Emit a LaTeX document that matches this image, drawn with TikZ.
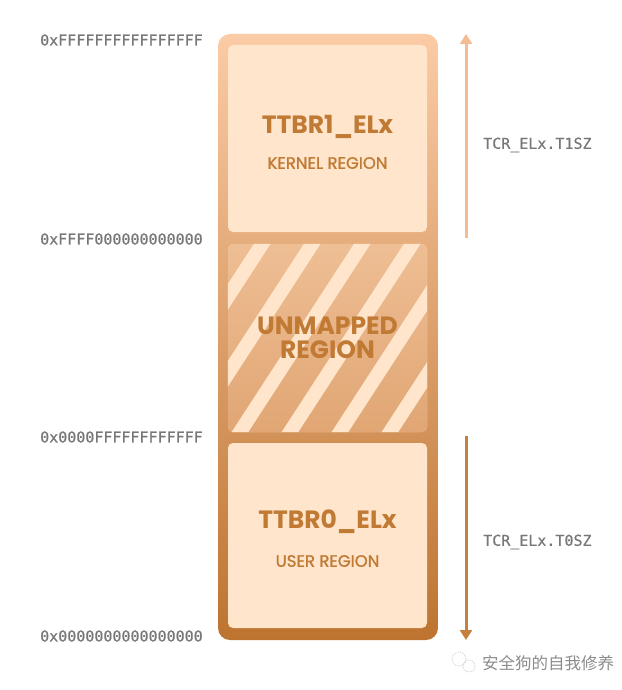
\documentclass[tikz,border=0pt]{standalone}
\usepackage{fontspec}
\setmainfont{Poppins}
\newfontfamily\addrfont{DejaVu Sans Mono}
\newfontfamily\cjkfont{Noto Sans CJK SC}
\usetikzlibrary{arrows.meta}

\definecolor{frametop}{HTML}{FBCBA5}
\definecolor{framebot}{HTML}{BD7430}
\definecolor{boxfill}{HTML}{FEE5CC}
\definecolor{midtop}{HTML}{EEBE94}
\definecolor{midbot}{HTML}{E1A674}
\definecolor{labelbrown}{HTML}{C07A34}
\definecolor{addrgray}{HTML}{777777}
\definecolor{arrowlight}{HTML}{F5BC94}
\definecolor{arrowdark}{HTML}{C5813D}
\definecolor{wmgray}{HTML}{8C8C8C}

\begin{document}
\begin{tikzpicture}[x=1pt,y=-1pt,
    regionbox/.style={fill=boxfill, rounded corners=5pt, minimum width=199pt, inner sep=0pt},
    stripe/.style={draw=boxfill, line width=14pt},
    titletext/.style={text=labelbrown, font=\bfseries\fontsize{25}{28}\selectfont, inner sep=0pt},
    subtext/.style={text=labelbrown, font=\fontsize{16.5}{18}\selectfont\addfontfeature{FakeBold=1.2}, inner sep=0pt},
    addr/.style={text=addrgray, font=\addrfont\fontsize{15}{17}\selectfont\addfontfeature{FakeBold=0.6}, anchor=west, inner sep=0pt},
    tcrarrow/.style={line width=3pt, -{Triangle[width=12pt,length=10pt]}},
    wmtext/.style={text=wmgray, font=\cjkfont\fontsize{16.5}{18}\selectfont, anchor=west, inner sep=0pt}]
        \useasboundingbox (0,0) rectangle (621,690);

        % === OUTER FRAME ===
        \node[shade, top color=frametop, bottom color=framebot, rounded corners=12pt,
              minimum width=220pt, minimum height=606pt, inner sep=0pt] (frame) at (328,337) {};

        % === REGIONS ===
        \node[regionbox, minimum height=187pt] (kernelbox) at (327.5,138.5) {};
        \node[regionbox, shade, top color=midtop, bottom color=midbot, minimum height=188pt] (unmapped) at (327.5,338) {};
        \node[regionbox, minimum height=185pt] (userbox) at (327.5,535.5) {};

        % === STRIPES ===
        \begin{scope}
            \clip[rounded corners=5pt] (unmapped.south west) rectangle (unmapped.north east);
            \foreach \k in {-3,...,4}
                \draw[stripe] ({234.8+50*\k},440) -- ++(133.2,-205);
        \end{scope}

        % === REGION LABELS ===
        \node[titletext] (ttbr1) at (327.5,127) {TTBR1\_ELx};
        \node[subtext] (kernel) at (327.5,163) {KERNEL REGION};
        \node[titletext] (unmapA) at (327.5,326) {UNMAPPED};
        \node[titletext] (unmapB) at (327.5,350) {REGION};
        \node[titletext] (ttbr0) at (327.5,522) {TTBR0\_ELx};
        \node[subtext] (user) at (327.5,561) {USER REGION};

        % === ADDRESSES ===
        \node[addr] (addrtop) at (40,40) {0xFFFFFFFFFFFFFFFF};
        \node[addr] (addrkern) at (40,239) {0xFFFF000000000000};
        \node[addr] (addruser) at (40,437) {0x0000FFFFFFFFFFFF};
        \node[addr] (addrzero) at (40,636) {0x0000000000000000};

        % === TCR ARROWS ===
        \coordinate (t1start) at (466,238);
        \coordinate (t1end) at (466,34);
        \coordinate (t0start) at (466,436);
        \coordinate (t0end) at (466,640);
        \draw[tcrarrow, arrowlight] (t1start) -- (t1end);
        \draw[tcrarrow, arrowdark] (t0start) -- (t0end);
        \node[addr] (t1sz) at (483,145) {TCR\_ELx.T1SZ};
        \node[addr] (t0sz) at (483,542) {TCR\_ELx.T0SZ};

        % === WATERMARK ===
        \draw[wmgray!45, densely dotted, thick] (459,659) circle (7pt);
        \draw[wmgray!45, densely dotted, thick] (469,666) circle (6pt);
        \node[wmtext] (wmark) at (482,663) {安全狗的自我修养};

    \end{tikzpicture}
\end{document}
